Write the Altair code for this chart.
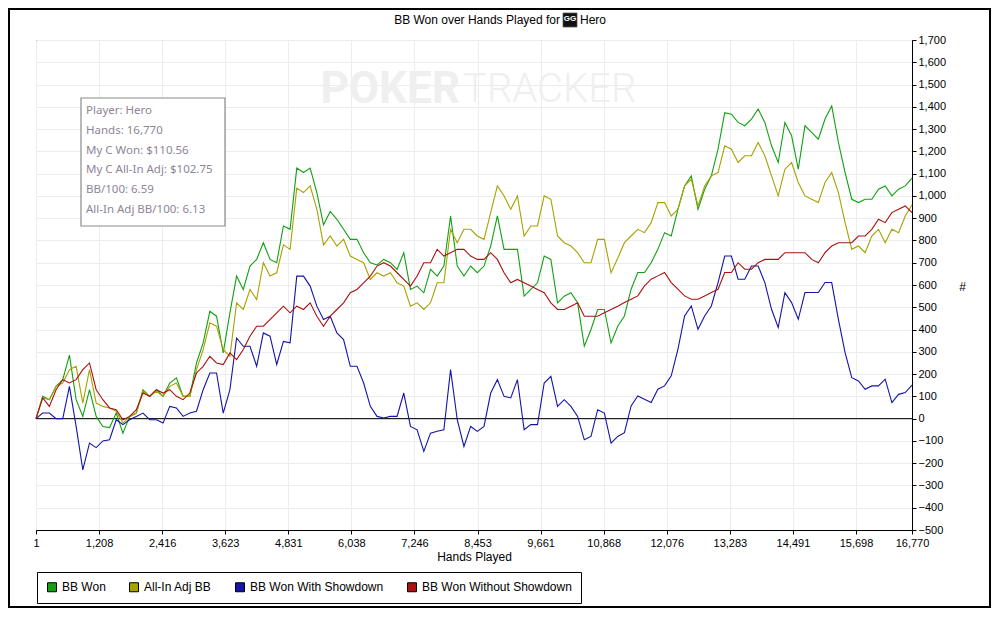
import altair as alt
import pandas as pd

# ---------------- data ----------------
HANDS = [1, 129, 257, 385, 513, 641, 769, 897, 1025, 1153, 1281, 1409, 1537, 1665, 1793,
         1921, 2049, 2177, 2305, 2433, 2561, 2689, 2817, 2945, 3073, 3201, 3329, 3457, 3585,
         3713, 3841, 3969, 4097, 4225, 4353, 4481, 4609, 4737, 4865, 4993, 5121, 5249, 5377,
         5505, 5633, 5761, 5889, 6017, 6145, 6273, 6401, 6529, 6657, 6785, 6913, 7041, 7169,
         7297, 7425, 7553, 7681, 7809, 7937, 8065, 8193, 8321, 8449, 8577, 8705, 8833, 8961,
         9089, 9217, 9345, 9473, 9601, 9729, 9857, 9985, 10113, 10241, 10369, 10497, 10625,
         10753, 10881, 11009, 11137, 11265, 11393, 11521, 11649, 11777, 11905, 12033, 12161,
         12289, 12417, 12545, 12673, 12801, 12929, 13057, 13185, 13313, 13441, 13569, 13697,
         13825, 13953, 14081, 14209, 14337, 14465, 14593, 14721, 14849, 14977, 15105, 15233,
         15361, 15489, 15617, 15745, 15873, 16001, 16129, 16257, 16385, 16513, 16641, 16770]

BB_WON = [0, 100, 85, 145, 175, 285, 85, 10, 130, 10, -35, -40, 25, -65, 10, 25, 130, 100, 130,
          100, 160, 183, 100, 100, 250, 340, 482, 460, 295, 475, 640, 580, 685, 715, 790, 715,
          700, 865, 850, 1125, 1105, 1125, 1015, 870,
          930, 895, 850, 805, 805, 745, 700, 690, 715, 700, 670, 745, 580, 595, 565, 670, 640,
          685, 910, 685, 640, 685, 655, 685, 775, 910, 760, 760, 760, 550, 580, 610, 730, 715,
          520, 550, 565, 520, 325, 400, 490, 490, 340, 415,
          461, 581, 656, 656, 700, 760, 835, 820, 940, 1045, 1090, 940, 1030, 1090, 1210, 1374,
          1367, 1330, 1315, 1345, 1390, 1330, 1225, 1150, 1330, 1270, 1120, 1315, 1285, 1255,
          1345, 1404, 1240, 1105, 985, 970, 985, 985, 1030, 1045, 1000, 1030, 1045, 1080]

ALL_IN_ADJ = [0, 93, 85, 145, 160, 220, 235, 70, 220, 70, 55, 48, 33, -20, 10, 25, 123, 100, 123,
              100, 145, 160, 100, 100, 220, 310, 430, 415, 310, 280, 520, 490, 580, 535, 700, 640,
              655, 780, 760, 1035, 1015, 1045, 940, 780,
              820, 775, 805, 730, 715, 700, 625, 655, 640, 655, 610, 595, 505, 520, 490, 520, 610,
              610, 850, 790, 850, 850, 820, 805, 925, 1045, 1000, 940, 1000, 820, 865, 865, 1000,
              985, 820, 790, 775, 745, 700, 700, 805, 805, 655, 720,
              790, 820, 850, 835, 880, 970, 970, 910, 940, 1045, 1075, 955, 1045, 1090, 1105, 1225,
              1210, 1150, 1180, 1180, 1240, 1180, 1090, 1000, 1120, 1150, 1060, 1000, 985, 970,
              1060, 1105, 1015, 880, 760, 775, 745, 820, 850, 790, 850, 835, 910, 960]

WITH_SD = [0, 25, 25, 0, 0, 145, -35, -230, -110, -130, -100, -95, -5, -27, -5, 10, 25, -5, -5,
           -20, 55, 48, 10, 25, 33, 130, 205, 205, 25, 130, 362, 325, 325, 235, 385, 370, 243,
           347, 340, 640, 640, 595, 505, 445,
           460, 385, 355, 235, 235, 160, 55, 10, 3, 10, 10, 115, -35, -50, -147, -65, -57, -50,
           220, -5, -125, -35, -57, -35, 115, 175, 100, 93, 175, -50, -27, -27, 160, 190, 55, 85,
           55, 10, -95, -80, 40, 25, -110, -80,
           -63, 57, 102, 87, 72, 132, 147, 192, 311, 461, 506, 401, 461, 506, 611, 730, 730, 626,
           626, 685, 685, 611, 491, 409, 566, 521, 446, 566, 566, 566, 611, 611, 446, 296, 184,
           169, 132, 147, 147, 177, 72, 109, 117, 150]

WITHOUT_SD = [0, 93, 55, 130, 175, 160, 175, 220, 250, 130, 85, 48, 40, -5, 10, 40, 115, 100, 130,
              115, 130, 100, 85, 115, 205, 235, 280, 250, 243, 295, 265, 310, 370, 415, 415, 445,
              475, 505, 475, 505, 490, 520, 460, 415,
              460, 490, 520, 565, 580, 610, 640, 685, 700, 685, 655, 625, 595, 640, 700, 700, 760,
              730, 745, 760, 760, 730, 715, 715, 745, 715, 655, 610, 625, 610, 595, 580, 565, 520,
              490, 490, 505, 520, 460, 460, 460, 475, 490, 505,
              521, 536, 551, 596, 626, 641, 656, 611, 581, 551, 536, 536, 551, 566, 581, 656, 656,
              700, 671, 671, 700, 715, 715, 715, 745, 745, 745, 745, 715, 700, 745, 775, 790, 790,
              790, 820, 820, 850, 895, 880, 925, 940, 955, 925]

SERIES = ["BB Won", "All-In Adj BB", "BB Won With Showdown", "BB Won Without Showdown"]
COLORS = ["#12a012", "#a6a200", "#1414a8", "#ac1010"]

X_TICKS = [1, 1208, 2416, 3623, 4831, 6038, 7246, 8453, 9661, 10868, 12076, 13283, 14491,
           15698, 16770]
Y_TICKS = [-500, -400, -300, -200, -100, 0, 100, 200, 300, 400, 500, 600, 700, 800, 900, 1000,
           1100, 1200, 1300, 1400, 1500, 1600, 1700]
ZERO_LINE = [0]

TITLE_LEFT = "BB Won over Hands Played for"
TITLE_RIGHT = "Hero"
INFO_LINES = ["Player: Hero", "Hands: 16,770", "My C Won: $110.56", "My C All-In Adj: $102.75",
              "BB/100: 6.59", "All-In Adj BB/100: 6.13"]

# ---------------- build table ----------------
rows = []
for name, vals in zip(SERIES, [BB_WON, ALL_IN_ADJ, WITH_SD, WITHOUT_SD]):
    for i, (h, v) in enumerate(zip(HANDS, vals)):
        rows.append({"hand": h, "bb": v, "series": name, "idx": i})
df = pd.DataFrame(rows)

W, H = 876, 490
FONT = "Liberation Sans"

x_enc = alt.X(
    "hand:Q",
    scale=alt.Scale(domain=[1, 16770], nice=False, zero=False),
    axis=alt.Axis(values=X_TICKS, format=",d", title="Hands Played", grid=True,
                  gridColor="#ececec", tickColor="black", domainColor="black", tickSize=4,
                  labelFont=FONT, labelFontSize=11, labelColor="black", labelPadding=3,
                  labelFlush=False, labelOverlap=False, titleFont=FONT, titleFontSize=12,
                  titleFontWeight="normal", titleColor="black", titlePadding=3),
)
y_axis = alt.Axis(orient="right", values=Y_TICKS, format=",d", title="#", grid=True,
                  gridColor="#ececec", tickColor="black", domainColor="black", tickSize=4,
                  labelFont=FONT, labelFontSize=11, labelColor="black", labelPadding=2,
                  labelOverlap=False, labelFlush=False, titleFont=FONT, titleFontSize=12,
                  titleFontWeight="normal", titleColor="black", titleAngle=0, titleX=50,
                  titleY=246, titleAlign="center", titleBaseline="middle")
y_scale = alt.Scale(domain=[-500, 1700], nice=False, zero=False)
y_enc = alt.Y("bb:Q", scale=y_scale, axis=y_axis)

legend = alt.Legend(
    title=None, orient="none", legendX=1, legendY=532, direction="horizontal",
    symbolType="square", symbolSize=81, symbolStrokeWidth=1, symbolStrokeColor="black",
    symbolOpacity=1, labelFont=FONT, labelFontSize=12, labelColor="black", labelOffset=4,
    columnPadding=21, padding=9, strokeColor="black", fillColor="white",
)

lines = alt.Chart(df).mark_line(strokeWidth=1.1, interpolate="linear").encode(
    x=x_enc, y=y_enc,
    color=alt.Color("series:N", scale=alt.Scale(domain=SERIES, range=COLORS), legend=None),
    order="idx:Q",
)

legend_src = alt.Chart(pd.DataFrame({"series": SERIES})).mark_square(
    size=81, filled=True, opacity=0).encode(
    color=alt.Color("series:N", scale=alt.Scale(domain=SERIES, range=COLORS), legend=legend),
    x=alt.value(0), y=alt.value(0),
)

zero_rule = alt.Chart(pd.DataFrame({"bb": ZERO_LINE})).mark_rule(
    color="black", strokeWidth=1).encode(y=y_enc)

one = pd.DataFrame({"a": [0]})

wm1 = alt.Chart(one).mark_text(text="POKER", font="Roboto", fontWeight="bold", fontSize=44,
                               color="#efefef", align="right", baseline="middle").encode(
    x=alt.value(424), y=alt.value(50))
wm2 = alt.Chart(one).mark_text(text="TRACKER", font="Roboto", fontWeight=300, fontSize=40,
                               color="#efefef", align="left", baseline="middle").encode(
    x=alt.value(427), y=alt.value(50))

info_box = alt.Chart(one).mark_rect(fill="white", stroke="#8a8a8a", strokeWidth=1.2).encode(
    x=alt.value(45), x2=alt.value(189), y=alt.value(58), y2=alt.value(186))
info_text = alt.Chart(one).mark_text(
    text="\n".join(INFO_LINES), lineBreak="\n", lineHeight=19.8, font="Noto Sans",
    fontSize=11.5, color="#8e8498", align="left", baseline="middle").encode(
    x=alt.value(50), y=alt.value(71))

title_l = alt.Chart(one).mark_text(text=TITLE_LEFT, font=FONT, fontSize=12, color="black",
                                   align="right", baseline="middle").encode(
    x=alt.value(524), y=alt.value(-20))
title_r = alt.Chart(one).mark_text(text=TITLE_RIGHT, font=FONT, fontSize=12, color="black",
                                   align="left", baseline="middle").encode(
    x=alt.value(544), y=alt.value(-20))
icon = alt.Chart(one).mark_rect(fill="#111111", stroke="#555555", strokeWidth=0.8).encode(
    x=alt.value(527), x2=alt.value(541), y=alt.value(-27), y2=alt.value(-13))
icon_t = alt.Chart(one).mark_text(text="GG", font=FONT, fontWeight="bold", fontSize=8,
                                  color="white", align="center", baseline="middle").encode(
    x=alt.value(534), y=alt.value(-21))

border = alt.Chart(one).mark_rect(fill="white", fillOpacity=0, stroke="black",
                                  strokeWidth=2).encode(
    x=alt.value(-27), x2=alt.value(954), y=alt.value(-31), y2=alt.value(567))

chart = alt.layer(
    wm1, wm2, zero_rule, lines, legend_src, info_box, info_text, title_l, title_r, icon,
    icon_t, border
).resolve_scale(color="independent").resolve_legend(color="independent").properties(
    width=W, height=H,
    padding={"left": 28, "top": 32, "right": 79, "bottom": 78},
    autosize=alt.AutoSizeParams(type="none"),
    background="white",
).configure_view(stroke="black", strokeWidth=1)

chart.save("out.html", embed_options={"renderer": "svg", "actions": False})
